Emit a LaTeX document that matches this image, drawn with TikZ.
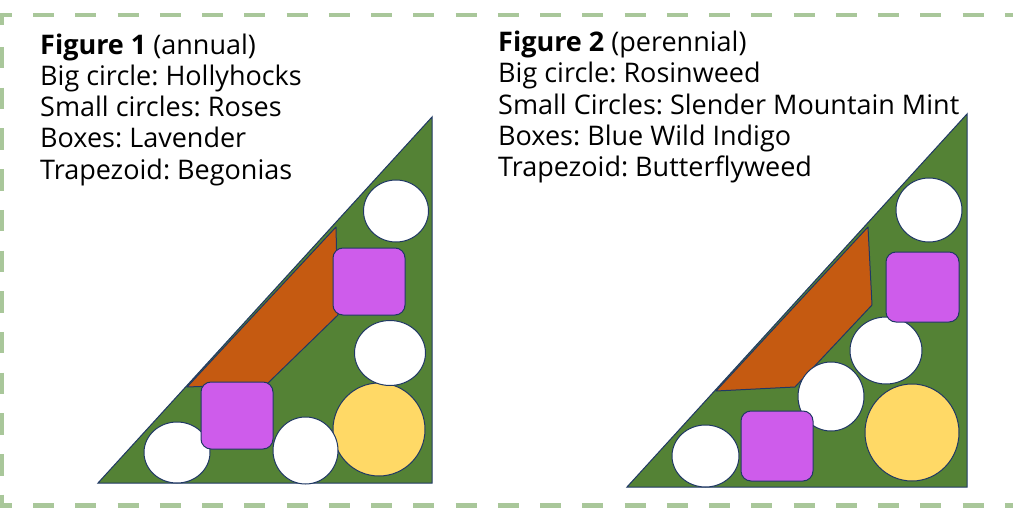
\documentclass[tikz,border=0pt]{standalone}
\usepackage{fontspec}
\setmainfont{Open Sans}
\frenchspacing
\definecolor{bed}{HTML}{548235}
\definecolor{trap}{HTML}{C55A11}
\definecolor{lav}{HTML}{CE5CEB}
\definecolor{big}{HTML}{FFD966}
\definecolor{edge}{HTML}{203864}
\definecolor{frame}{HTML}{A9C79A}
\begin{document}
\begin{tikzpicture}[x=1pt,y=-1pt,
  framedash/.style={draw=frame, line width=4.5pt},
  bedshape/.style={fill=bed, draw=edge, line width=1pt},
  trapshape/.style={fill=trap, draw=edge, line width=1pt, line join=round},
  smallc/.style={fill=white, draw=edge, line width=1pt},
  bigc/.style={fill=big, draw=edge, line width=1pt},
  boxshape/.style={fill=lav, draw=edge, line width=1pt, rounded corners=10pt},
  txt/.style={anchor=base west, inner sep=0pt, font=\fontsize{27}{31}\selectfont\frenchspacing}]
\useasboundingbox (0,0) rectangle (1013,508);
% frame
\draw[framedash] (0,15) -- (12,15);
\draw[framedash] (2,13) -- (2,25);
\draw[framedash] (0,505.5) -- (12,505.5);
\draw[framedash] (2,508) -- (2,497);
\draw[framedash, dash pattern=on 21pt off 21.26pt] (33,15) -- (1030,15);
\draw[framedash, dash pattern=on 21pt off 21.26pt] (33,505.5) -- (1030,505.5);
\draw[framedash, dash pattern=on 21.5pt off 19.2pt] (2,47) -- (2,497);
% texts
\node[txt] (a1) at (40,55) {\textbf{Figure 1} (annual)};
\node[txt] (a2) at (40,86) {Big circle: Hollyhocks};
\node[txt] (a3) at (40,117) {Small circles: Roses};
\node[txt] (a4) at (40,148) {Boxes: Lavender};
\node[txt] (a5) at (40,180) {Trapezoid: Begonias};
\node[txt] (b1) at (498,52) {\textbf{Figure 2} (perennial)};
\node[txt] (b2) at (498,83) {Big circle: Rosinweed};
\node[txt] (b3) at (498,114.5) {Small Circles: Slender Mountain Mint};
\node[txt] (b4) at (498,146) {Boxes: Blue Wild Indigo};
\node[txt] (b5) at (498,177) {Trapezoid: Butterflyweed};
% figure 1
\draw[bedshape] (98,483) -- (432,483) -- (432,117) -- cycle;
\draw[trapshape] (187,387) -- (336,227) -- (338,315) -- (267,384) -- cycle;
\draw[bigc] (379,429.5) ellipse [x radius=46pt, y radius=46.5pt];
\draw[smallc] (396,211) ellipse [x radius=32.5pt, y radius=31pt];
\draw[smallc] (390,353) ellipse [x radius=35.5pt, y radius=32.5pt];
\draw[smallc] (305.5,450.5) ellipse [x radius=32.5pt, y radius=33.5pt];
\draw[smallc] (177,452.5) ellipse [x radius=33pt, y radius=30.5pt];
\draw[boxshape] (333,248) rectangle (405,315);
\draw[boxshape] (201,382) rectangle (273,449);
% figure 2
\draw[bedshape] (627,487) -- (967,487) -- (967,114) -- cycle;
\draw[trapshape] (716,391) -- (868,227) -- (872,305) -- (795,387) -- cycle;
\draw[bigc] (912,432.5) ellipse [x radius=47pt, y radius=48.5pt];
\draw[smallc] (929,210) ellipse [x radius=33pt, y radius=32pt];
\draw[smallc] (886,350.5) ellipse [x radius=36pt, y radius=33.5pt];
\draw[smallc] (831,396.5) ellipse [x radius=33pt, y radius=34.5pt];
\draw[smallc] (705.5,456) ellipse [x radius=33.5pt, y radius=31pt];
\draw[boxshape] (886,252) rectangle (959,322);
\draw[boxshape] (741,411) rectangle (813,481);
\end{tikzpicture}
\end{document}
